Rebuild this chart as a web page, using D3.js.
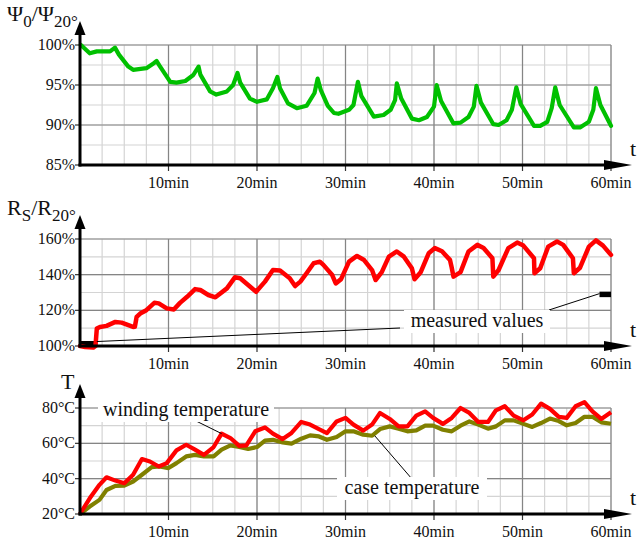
<!DOCTYPE html>
<html><head><meta charset="utf-8">
<script src="https://cdn.jsdelivr.net/npm/d3@7"></script>
<style>svg text, svg tspan { font-family: "Liberation Serif", "Times New Roman", serif !important; }</style>
</head><body style="margin:0;background:#fff">
<svg id="c" width="637" height="539" style="display:block"></svg>
<script>
// ---- data ----
const xTicks = [10, 20, 30, 40, 50, 60];
const xTickLabels = ["10min", "20min", "30min", "40min", "50min", "60min"];
const psiTicks = [85, 90, 95, 100];
const psiTickLabels = ["85%", "90%", "95%", "100%"];
const rsTicks = [100, 120, 140, 160];
const rsTickLabels = ["100%", "120%", "140%", "160%"];
const tTicks = [20, 40, 60, 80];
const tTickLabels = ["20°C", "40°C", "60°C", "80°C"];

const psiTime = [0.1,1.1,1.9,3.4,3.95,4.4,5.46,6.0,7.5,8.3,8.66,9.0,10.2,10.9,11.9,12.8,13.4,13.6,14.7,15.4,16.6,17.3,17.8,18.1,19.2,20,21.1,21.8,22.3,22.6,23.5,24.5,25.6,26.5,26.85,27.2,28.0,28.7,29.2,30.4,30.9,31.4,31.8,33.2,34.3,35.1,35.6,35.8,36.3,37.5,38.3,39.2,40.0,40.3,40.8,42.2,43.0,43.9,44.5,44.8,45.3,46.7,47.3,48.2,48.8,49.3,49.8,51.3,52,52.8,53.3,53.7,54.2,55.8,56.5,57.5,58,58.3,58.8,60];
const psiValue = [100,98.96,99.2,99.2,99.67,98.8,97.3,96.9,97.1,97.7,98,97.4,95.4,95.3,95.5,96.25,97.3,96.3,94.2,93.8,94.2,95,96.5,95.3,93.3,92.9,93.2,94.6,96,94.6,92.7,92.1,92.4,94,95.8,94.4,92.4,91.5,91.4,91.9,92.5,95.4,93.6,91.04,91.25,91.9,93.1,95.2,93.3,90.8,90.6,91.0,92.3,95,93.0,90.2,90.3,91.0,92.3,94.9,92.8,90.1,90,90.6,91.9,94.7,92.6,89.9,89.9,90.4,92.1,94.7,92.5,89.7,89.7,90.4,91.9,94.6,92.5,89.9];

const rsTime = [0,0.6,1.5,1.75,1.9,2.26,3.0,4.0,4.7,6.0,6.2,6.4,6.8,7.5,8.4,8.9,9.8,10.6,11.3,12.1,13,13.6,14.5,15.3,16.6,17.5,18.1,19,19.9,20.9,21.8,22.6,23.7,24.3,24.9,25.6,26.4,27.1,27.5,28.5,28.9,29.5,30.4,31.3,32.1,33,33.4,34.1,34.9,35.8,36.6,37.5,37.8,38.5,39.4,40.1,40.9,41.8,42.0,42.2,43.0,43.9,44.9,45.6,46.6,46.7,47.3,48.4,49.4,50.1,51.3,51.35,52.0,52.9,53.9,54.6,55.7,55.8,56.5,57.5,58.3,59.1,60];
const rsValue = [100,99.4,99.1,100,109.8,110.7,111.3,113.5,113.1,110.7,110.8,116.3,118.2,120.1,124.2,123.9,121.1,120.5,124.2,127.6,131.9,131.4,128.6,127.3,132.3,138.5,138,134.2,130.4,136.1,142.6,142.3,138,133.6,136.1,140.8,146.4,147.3,145.5,139.8,135.1,137.5,147.3,150.5,148.2,142.6,137,141.4,150.1,153,150.1,143.6,137.4,141.4,152,154.9,153.1,148.3,144,138.9,141.4,153,156.7,155,149.2,138.9,142.6,154.9,158,156.3,149.2,140.8,143.6,155.7,158.6,156.7,149.2,140.8,143.9,155.7,159.2,156.3,151.1];

const windTime = [0,1.1,2.2,3.0,4.0,5.0,6.0,7.0,7.9,8.9,9.8,10.9,12.0,13.0,14.0,15.1,16.0,17.0,18.0,18.8,19.8,20.9,21.8,22.9,23.9,25.0,26.0,27.0,27.9,29.0,30.0,30.9,32.0,33.0,33.9,35.0,36.0,37.0,38.0,39.0,39.9,41.0,42.0,43.0,44.0,45.0,46.1,47.0,48.0,49.0,50.1,51.1,52.1,53.1,54.1,55.0,56.0,57.0,57.9,58.9,60];
const windValue = [20,28.9,36.5,40.8,38.9,37.4,42.2,51.1,49.7,46.9,48.8,56,59.2,56.4,53.5,57.9,65.5,63,58.6,58.8,66.8,69,65.5,62.4,65.9,72.1,70.6,68,65.8,72.4,74.4,70.6,67.2,70.6,77.2,73.8,69.6,69.6,75.7,78.1,74.4,71,74.4,80,77.2,72.1,72.1,78.7,81,75.7,73,76.3,82.5,79.5,75,74.4,81,83.3,78.1,73.8,77.6];

const caseTime = [0,1.1,2.2,3.0,4.0,5.0,6.0,7.0,8.1,9.0,10.0,10.9,12.0,13.0,14.0,15.1,16.0,17.0,18.0,19.0,20,20.9,21.8,22.9,23.9,25.0,26.0,27.0,27.9,29.0,30.0,30.9,32.0,33.0,33.9,35.0,36.0,37.0,38.0,39.0,39.9,41.0,42.0,43.0,44.0,45.0,46.1,47.0,48.0,49.0,50.1,51.1,52.1,53.1,54.1,55.0,56.0,57.0,57.9,58.9,60];
const caseValue = [20,24.2,28,33.6,35.9,36.1,38.4,42.2,46.5,46.9,46,48.8,52.6,53.5,52.6,52.6,56.4,58.8,57.9,56.8,57.9,61.5,62,60.5,59.8,62.6,64.5,63.9,62,63.6,66.8,66.8,64.9,64.3,68.1,69.6,68.3,66.8,67.3,70,70,67.7,66.8,70,72.4,70.6,68.3,69.6,73,73,71,69.3,71.5,74,72.6,70.2,71.5,75,75,71.9,71.1];

// ---- drawing ----
const svg = d3.select("#c");
const x = d3.scaleLinear().domain([0, 60]).range([80, 611]);
const minorX = d3.range(0, 60.01, 2.5);
function txt(sel) {
  sel.attr("font-family", "Liberation Serif")
     .attr("style", 'font-family: "Liberation Serif", "Times New Roman", serif !important')
     .attr("fill", "#111");
}

function panel(cfg) {
  const y = d3.scaleLinear().domain(cfg.domain).range(cfg.range);
  const g = svg.append("g");
  g.selectAll(null).data(minorX).enter().append("line")
    .attr("x1", d => x(d)).attr("x2", d => x(d)).attr("y1", y(cfg.domain[0])).attr("y2", y(cfg.domain[1]))
    .attr("stroke", "#d4d4d4").attr("stroke-width", 1.2);
  g.selectAll(null).data(d3.range(cfg.domain[0], cfg.domain[1] + 0.01, cfg.minor)).enter().append("line")
    .attr("x1", x(0)).attr("x2", x(60)).attr("y1", d => y(d)).attr("y2", d => y(d))
    .attr("stroke", "#d4d4d4").attr("stroke-width", 1.2);
  g.selectAll(null).data(xTicks).enter().append("line")
    .attr("x1", d => x(d)).attr("x2", d => x(d)).attr("y1", y(cfg.domain[0])).attr("y2", y(cfg.domain[1]))
    .attr("stroke", "#858585").attr("stroke-width", 1.2);
  g.selectAll(null).data(cfg.ticks).enter().append("line")
    .attr("x1", x(0)).attr("x2", x(60)).attr("y1", d => y(d)).attr("y2", d => y(d))
    .attr("stroke", "#858585").attr("stroke-width", 1.2);
  g.selectAll(null).data(cfg.ticks).enter().append("line")
    .attr("x1", x(0) - 5).attr("x2", x(0)).attr("y1", d => y(d)).attr("y2", d => y(d))
    .attr("stroke", "#333").attr("stroke-width", 1.2);
  g.selectAll(null).data(cfg.ticks).enter().append("text")
    .attr("x", x(0) - 5).attr("y", d => y(d) + 5).attr("text-anchor", "end")
    .attr("font-size", 16).text((d, i) => cfg.labels[i]).call(txt);
  const yb = y(cfg.domain[0]);
  g.selectAll(null).data(xTicks).enter().append("line")
    .attr("x1", d => x(d)).attr("x2", d => x(d)).attr("y1", yb).attr("y2", yb + 6)
    .attr("stroke", "#333").attr("stroke-width", 1.2);
  g.selectAll(null).data(xTicks).enter().append("text")
    .attr("x", d => x(d)).attr("y", yb + 23).attr("text-anchor", "middle")
    .attr("font-size", 16).text((d, i) => xTickLabels[i]).call(txt);
  cfg.y = y;
  return cfg;
}

function axes(cfg) {
  const y = cfg.y, g = svg.append("g");
  const yb = y(cfg.domain[0]), yt = y(cfg.domain[1]);
  g.append("line").attr("x1", x(0)).attr("x2", x(0)).attr("y1", yb + 1.5).attr("y2", yt - 12)
    .attr("stroke", "#000").attr("stroke-width", 3);
  g.append("path").attr("d", `M${x(0)-5.5},${yt-10} L${x(0)},${yt-24} L${x(0)+5.5},${yt-10} Z`).attr("fill", "#000");
  g.append("line").attr("x1", x(0) - 1.5).attr("x2", 612).attr("y1", yb).attr("y2", yb)
    .attr("stroke", "#000").attr("stroke-width", 3);
  g.append("path").attr("d", `M604,${yb-5} L632,${yb} L604,${yb+5} Z`).attr("fill", "#000");
  g.append("text").attr("x", 630).attr("y", yb - 9).attr("font-size", 22).text("t").call(txt);
}

const p1 = panel({domain: [85, 100], range: [165, 45], minor: 2.5, ticks: psiTicks, labels: psiTickLabels});
const p2 = panel({domain: [100, 160], range: [346, 239], minor: 10, ticks: rsTicks, labels: rsTickLabels});
const p3 = panel({domain: [20, 80], range: [514, 408], minor: 10, ticks: tTicks, labels: tTickLabels});

const straight = (yS) => d3.line().x(d => x(d[0])).y(d => yS(d[1]));

svg.append("path").datum(d3.zip(psiTime, psiValue)).attr("d", straight(p1.y))
  .attr("fill", "none").attr("stroke", "#00c000").attr("stroke-width", 4.2).attr("stroke-linejoin", "round").attr("stroke-linecap", "round");

svg.append("rect").attr("x", x(0)).attr("y", p2.y(100) - 5).attr("width", x(1.9) - x(0)).attr("height", 5).attr("fill", "#000");
svg.append("rect").attr("x", x(58.7)).attr("y", p2.y(128.8) - 3).attr("width", x(60) - x(58.7)).attr("height", 5.5).attr("fill", "#000");

svg.append("path").datum(d3.zip(rsTime, rsValue)).attr("d", straight(p2.y))
  .attr("fill", "none").attr("stroke", "#ff0000").attr("stroke-width", 4.5).attr("stroke-linejoin", "round").attr("stroke-linecap", "round");

svg.append("path").datum(d3.zip(caseTime, caseValue)).attr("d", straight(p3.y))
  .attr("fill", "none").attr("stroke", "#808000").attr("stroke-width", 4.2).attr("stroke-linejoin", "round");
svg.append("path").datum(d3.zip(windTime, windValue)).attr("d", straight(p3.y))
  .attr("fill", "none").attr("stroke", "#ff0000").attr("stroke-width", 4.2).attr("stroke-linejoin", "round");

axes(p1); axes(p2); axes(p3);

function note(label, cx, base, w, lines) {
  const g = svg.append("g");
  lines.forEach(l => g.append("line").attr("x1", l[0]).attr("y1", l[1]).attr("x2", l[2]).attr("y2", l[3]).attr("stroke", "#000").attr("stroke-width", 1));
  g.append("rect").attr("x", cx - w / 2).attr("y", base - 17).attr("width", w).attr("height", 23).attr("fill", "#fff");
  g.append("text").attr("x", cx).attr("y", base).attr("text-anchor", "middle").attr("font-size", 20).text(label).call(txt);
}
note("measured values", 477, 327, 146, [[x(1.9), p2.y(102.5), 400, 328], [549, 310, x(58.7), p2.y(128.8) - 1]]);
note("winding temperature", 186, 416, 176, [[188, 417, x(16), p3.y(65.5)]]);
note("case temperature", 412, 494, 150, [[412, 479, x(33.3), p3.y(64.3)]]);

const t1 = svg.append("text").attr("x", 7).attr("y", 21).attr("font-size", 22).call(txt);
t1.append("tspan").text("Ψ");
t1.append("tspan").attr("font-size", 17).attr("dy", 6).text("0");
t1.append("tspan").attr("dy", -6).text("/Ψ");
t1.append("tspan").attr("font-size", 17).attr("dy", 6).text("20°");
const t2 = svg.append("text").attr("x", 7).attr("y", 215).attr("font-size", 22).call(txt);
t2.append("tspan").text("R");
t2.append("tspan").attr("font-size", 17).attr("dy", 6).text("S");
t2.append("tspan").attr("dy", -6).text("/R");
t2.append("tspan").attr("font-size", 17).attr("dy", 6).text("20°");
svg.append("text").attr("x", 61).attr("y", 389).attr("font-size", 22).text("T").call(txt);
</script></body></html>
